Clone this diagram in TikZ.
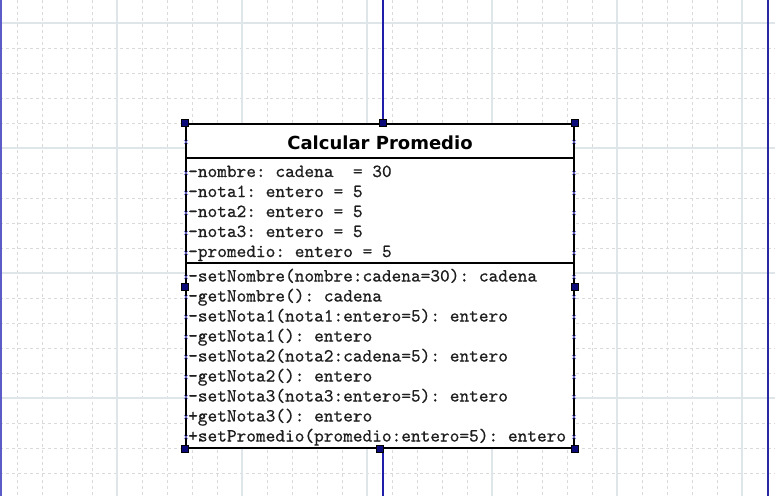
\documentclass[tikz,border=0pt]{standalone}
\usepackage{fontspec}
\newfontfamily\titlefont{DejaVu Sans}
\newfontfamily\rowfont{lmmono10-regular.otf}[FakeBold=0.6]
\definecolor{gridminor}{RGB}{216,218,220}
\definecolor{gridmajor}{RGB}{222,230,233}
\definecolor{edgeleft}{RGB}{92,92,200}
\definecolor{edgeright}{RGB}{40,40,160}
\definecolor{wire}{RGB}{30,30,170}
\definecolor{handlefill}{RGB}{10,10,120}
\definecolor{markc}{RGB}{110,110,220}
\definecolor{txt}{RGB}{30,30,30}
\def\cw{9.69}
\def\lx{188}
\begin{document}
\frenchspacing
\begin{tikzpicture}[x=1pt,y=-1pt,
  minorline/.style={gridminor,line width=0.9pt,dash pattern=on 3pt off 3pt},
  majorline/.style={gridmajor,line width=1.2pt},
  classbox/.style={draw=black,fill=white,line width=1.6pt,minimum width=388pt,minimum height=324pt,inner sep=0pt},
  sepline/.style={black,line width=1.6pt},
  titletext/.style={inner sep=0pt,anchor=base,font=\titlefont\bfseries\fontsize{18}{22}\selectfont,text=black},
  rowtext/.style={inner sep=0pt,anchor=base west,font=\rowfont\frenchspacing\fontsize{18.45}{20}\selectfont,text=txt},
  handle/.style={draw=black,fill=handlefill,line width=0.5pt,minimum size=7pt,inner sep=0pt},
  marker/.style={markc,line width=0.6pt},
  wireline/.style={wire,line width=1.3pt}]
\useasboundingbox (0,0) rectangle (775,496);
\fill[white] (0,0) rectangle (775,496);
% grid
\foreach \gx in {17,42,...,767} \draw[minorline] (\gx,0) -- (\gx,496);
\foreach \gy in {23,48,...,473} \draw[minorline] (0,\gy) -- (775,\gy);
\foreach \gx in {117,242,367,492,617,742} \draw[majorline] (\gx,0) -- (\gx,496);
\foreach \gy in {23,148,273,398} \draw[majorline] (0,\gy) -- (775,\gy);
% page edges
\draw[edgeleft,line width=2pt] (1,0) -- (1,496);
\draw[edgeright,line width=2pt] (768,0) -- (768,496);
% class box
\node[classbox] (cls) at (380,286) {};
\coordinate (topend) at (383,0);
\coordinate (botend) at (383,496);
\draw[wireline] (topend) -- (topend |- cls.north);
\draw[wireline] (botend) -- (botend |- cls.south);
\draw[sepline] (cls.west |- 0,158) -- (cls.east |- 0,158);
\draw[sepline] (cls.west |- 0,263) -- (cls.east |- 0,263);
\node[titletext] (title) at (380,149) {Calcular Promedio};
% attributes (one node per word, on monospace columns)
\node[rowtext] (a1a) at (\lx,177) {-nombre:};
\node[rowtext] (a1b) at (\lx+\cw*9,177) {cadena};
\node[rowtext] (a1c) at (\lx+\cw*17,177) {=};
\node[rowtext] (a1d) at (\lx+\cw*19,177) {30};
\foreach \i/\yy in {1/197,2/217,3/237} {
  \node[rowtext] (a\i x) at (\lx,\yy) {-nota\i:};
  \node[rowtext] (a\i y) at (\lx+\cw*8,\yy) {entero};
  \node[rowtext] (a\i z) at (\lx+\cw*15,\yy) {=};
  \node[rowtext] (a\i w) at (\lx+\cw*17,\yy) {5};
}
\node[rowtext] (a5a) at (\lx,257) {-promedio:};
\node[rowtext] (a5b) at (\lx+\cw*11,257) {entero};
\node[rowtext] (a5c) at (\lx+\cw*18,257) {=};
\node[rowtext] (a5d) at (\lx+\cw*20,257) {5};
% methods
\node[rowtext] (m1a) at (\lx,281.5) {-setNombre(nombre:cadena=30):};
\node[rowtext] (m1b) at (\lx+\cw*30,281.5) {cadena};
\node[rowtext] (m2a) at (\lx,301.5) {-getNombre():};
\node[rowtext] (m2b) at (\lx+\cw*14,301.5) {cadena};
\node[rowtext] (m3a) at (\lx,321.5) {-setNota1(nota1:entero=5):};
\node[rowtext] (m3b) at (\lx+\cw*27,321.5) {entero};
\node[rowtext] (m4a) at (\lx,341.5) {-getNota1():};
\node[rowtext] (m4b) at (\lx+\cw*13,341.5) {entero};
\node[rowtext] (m5a) at (\lx,361.5) {-setNota2(nota2:cadena=5):};
\node[rowtext] (m5b) at (\lx+\cw*27,361.5) {entero};
\node[rowtext] (m6a) at (\lx,381.5) {-getNota2():};
\node[rowtext] (m6b) at (\lx+\cw*13,381.5) {entero};
\node[rowtext] (m7a) at (\lx,401.5) {-setNota3(nota3:entero=5):};
\node[rowtext] (m7b) at (\lx+\cw*27,401.5) {entero};
\node[rowtext] (m8a) at (\lx,421.5) {+getNota3():};
\node[rowtext] (m8b) at (\lx+\cw*13,421.5) {entero};
\node[rowtext] (m9a) at (\lx,441.5) {+setPromedio(promedio:entero=5):};
\node[rowtext] (m9b) at (\lx+\cw*33,441.5) {entero};
% row markers
\foreach \my in {142,173,193,213,233,253,277,297,317,337,357,377,397,417,437} {
  \foreach \mx in {186,574} {
    \draw[marker] (\mx-2,\my-2) -- (\mx+2,\my+2);
    \draw[marker] (\mx-2,\my+2) -- (\mx+2,\my-2);
  }
}
% selection handles
\node[handle] (h1) at (cls.north west) {};
\node[handle] (h2) at (topend |- cls.north) {};
\node[handle] (h3) at (cls.north east) {};
\node[handle] (h4) at (cls.west |- 0,287) {};
\node[handle] (h5) at (cls.east |- 0,287) {};
\node[handle] (h6) at (cls.south west) {};
\node[handle] (h7) at (cls.south) {};
\node[handle] (h8) at (cls.south east) {};
\end{tikzpicture}
\end{document}
